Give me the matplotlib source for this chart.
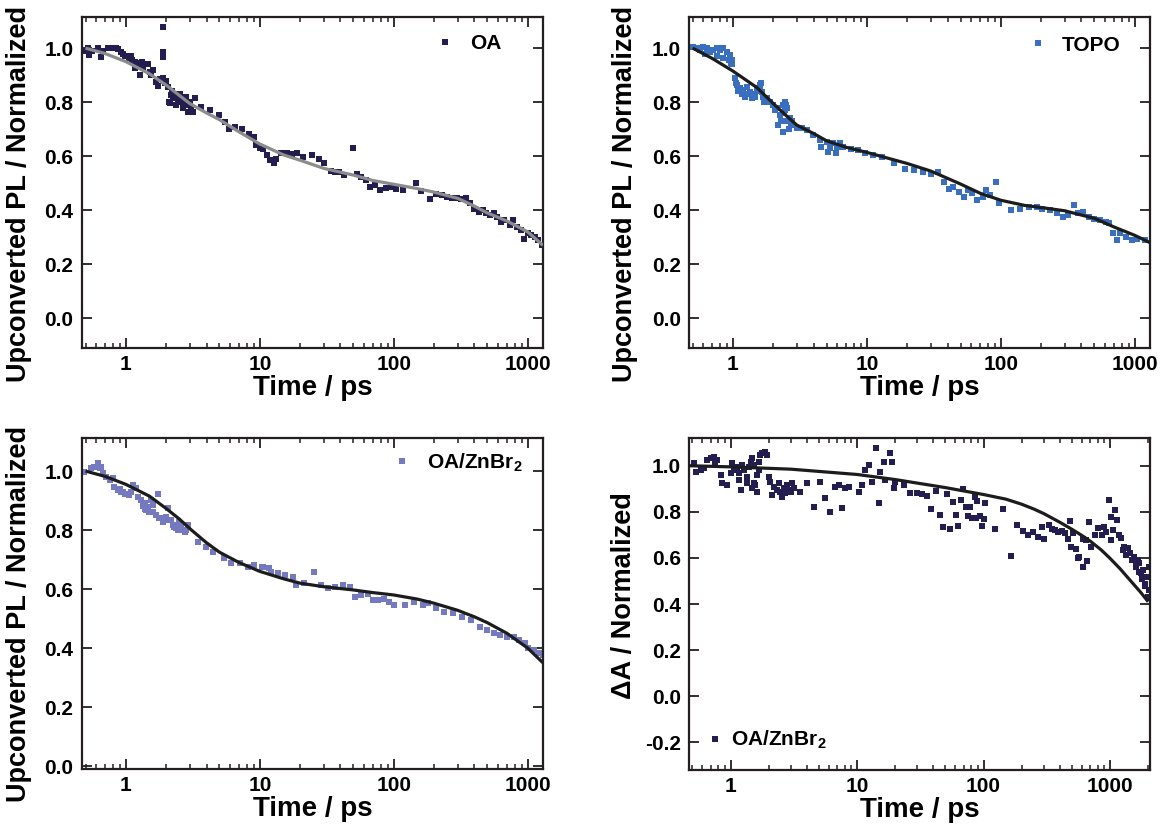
import numpy as np
import matplotlib
matplotlib.use('Agg')
import matplotlib.pyplot as plt
from matplotlib.ticker import LogLocator, FixedLocator, FixedFormatter, NullFormatter

plt.rcParams['font.family'] = ['Liberation Sans', 'DejaVu Sans']
plt.rcParams['font.weight'] = 'bold'
plt.rcParams['axes.unicode_minus'] = False
plt.rcParams['mathtext.fontset'] = 'custom'
plt.rcParams['mathtext.rm'] = 'Liberation Sans:bold'
plt.rcParams['mathtext.bf'] = 'Liberation Sans:bold'
plt.rcParams['mathtext.default'] = 'rm'

# --- OA (panel 1) ---
oa_t = [0.50, 0.52, 0.53, 0.56, 0.62, 0.65, 0.68, 0.73, 0.77, 0.80, 0.84, 0.87, 0.92, 0.95,
        0.98, 1.02, 1.05, 1.09, 1.12, 1.17, 1.22, 1.28, 1.33, 1.39, 1.17, 1.28, 1.46, 1.52,
        1.60, 1.68, 1.74, 1.80, 1.88, 1.95, 2.00, 1.90, 1.88, 1.89, 2.07, 2.13, 2.19, 2.25,
        2.32, 2.40, 2.46, 2.52, 2.59, 2.68, 2.76, 2.85, 2.92, 3.05, 3.19, 3.28, 3.66, 4.26,
        4.92, 5.5, 5.9, 6.5, 7.3, 8.3, 9.1, 9.4, 10.0, 10.6, 11.3, 12.0, 12.8, 13.2, 14.5,
        15.9, 17.4, 19.1, 21.0, 24.5, 27.8, 30.3, 34.0, 36.5, 38.8, 42.7, 49.9, 52.9, 56.5,
        61.8, 65.9, 72.2, 79.2, 86.9, 95.3, 104.6, 118, 147, 161, 188, 207, 228, 250, 272,
        298, 320, 348, 372, 395, 434, 462, 491, 522, 556, 591, 628, 669, 733, 780, 831, 885,
        940, 1000, 1064, 1130, 1203, 1282,
        1.35, 1.55, 2.10, 2.22, 2.35, 2.55, 2.65, 2.80, 3.00]
oa_y = [0.99, 1.0, 0.975, 0.99, 1.0, 0.967, 0.99, 1.0, 1.0, 1.0, 1.0, 0.995, 0.985, 0.98,
        0.97, 0.97, 0.965, 0.97, 0.955, 0.95, 0.945, 0.94, 0.95, 0.94, 0.925, 0.90, 0.94, 0.91,
        0.92, 0.875, 0.86, 0.885, 0.89, 0.87, 0.88, 1.08, 0.985, 0.967, 0.857, 0.796, 0.826, 0.82,
        0.814, 0.83, 0.80, 0.81, 0.807, 0.80, 0.814, 0.79, 0.764, 0.78, 0.764, 0.814, 0.783, 0.77,
        0.752, 0.727, 0.70, 0.708, 0.70, 0.684, 0.672, 0.64, 0.63, 0.625, 0.604, 0.585, 0.573, 0.59, 0.61,
        0.61, 0.607, 0.61, 0.597, 0.604, 0.59, 0.573, 0.545, 0.54, 0.54, 0.53, 0.63, 0.535, 0.523,
        0.511, 0.486, 0.493, 0.474, 0.484, 0.486, 0.48, 0.474, 0.499, 0.472, 0.44, 0.46, 0.455, 0.45, 0.445,
        0.445, 0.44, 0.445, 0.425, 0.406, 0.394, 0.40, 0.388, 0.381, 0.388, 0.376, 0.357, 0.363, 0.344, 0.363, 0.338,
        0.326, 0.295, 0.314, 0.307, 0.301, 0.289, 0.27,
        0.93, 0.90, 0.80, 0.84, 0.79, 0.83, 0.78, 0.82, 0.80]
oa_fit_t = [0.5, 0.7, 1, 1.5, 2, 3, 4, 5, 7, 10, 15, 20, 30, 50, 70, 100, 150, 200, 300, 400,
            500, 700, 1000, 1300]
oa_fit_y = [1.0, 0.98, 0.95, 0.905, 0.863, 0.795, 0.76, 0.735, 0.69, 0.645, 0.605, 0.585, 0.555,
            0.53, 0.51, 0.496, 0.48, 0.467, 0.444, 0.415, 0.39, 0.36, 0.32, 0.27]

# --- TOPO (panel 2) ---
topo_t = [0.50, 0.536, 0.567, 0.60, 0.636, 0.674, 0.713, 0.756, 0.80, 0.846, 0.897, 0.95, 0.978,
          0.62, 0.76, 0.85, 0.93, 0.96, 0.99, 1.035, 1.066, 1.127, 1.194, 1.265, 1.339, 1.416,
          1.503, 1.589, 1.637, 1.683, 1.782, 1.888, 2.0, 2.118, 2.178, 2.244, 2.371, 2.443, 2.512,
          2.661, 2.818, 2.985, 1.05, 1.10, 1.16, 1.22, 1.30, 1.38, 1.46, 1.55, 1.70, 2.05, 2.30,
          2.40, 2.55, 2.70, 3.26, 3.55, 3.97, 4.46, 4.53, 5.0, 5.16, 5.31, 5.61, 5.85, 6.03, 6.3,
          6.66, 7.55, 8.6, 9.75, 11.1, 13.0, 15.8, 19.1, 22.4, 26.2, 29.9, 34.1, 37.5, 41.3, 43.9,
          48.3, 53.2, 56.7, 60.4, 66.5, 73.2, 78.1, 83.2, 91.6, 97.7, 119, 139, 163, 185, 204,
          232, 264, 290, 319, 352, 375, 413, 454, 500, 550, 605, 645, 689, 735, 782, 861, 948,
          1045, 1186,
          2.35, 2.45, 2.50, 2.60, 2.75, 1.62, 1.58]
topo_y = [1.005, 0.999, 0.993, 1.005, 0.999, 0.986, 0.993, 0.999, 0.993, 0.999, 0.986, 0.974, 0.956,
          0.98, 0.97, 0.965, 0.955, 0.945, 0.94, 0.888, 0.863, 0.851, 0.844, 0.857, 0.838, 0.832,
          0.851, 0.863, 0.838, 0.82, 0.814, 0.801, 0.789, 0.777, 0.715, 0.752, 0.789, 0.801, 0.777,
          0.74, 0.715, 0.703, 0.87, 0.84, 0.83, 0.82, 0.83, 0.815, 0.82, 0.84, 0.80, 0.77, 0.73,
          0.76, 0.73, 0.72, 0.703, 0.697, 0.678, 0.659, 0.634, 0.654, 0.616, 0.63, 0.647, 0.61, 0.634, 0.647,
          0.634, 0.628, 0.622, 0.61, 0.604, 0.597, 0.573, 0.554, 0.548, 0.541, 0.535, 0.541, 0.505, 0.48, 0.486,
          0.468, 0.449, 0.474, 0.462, 0.437, 0.449, 0.474, 0.456, 0.505, 0.425, 0.40, 0.406, 0.412, 0.412, 0.406,
          0.40, 0.388, 0.375, 0.381, 0.419, 0.388, 0.394, 0.375, 0.369, 0.363, 0.357, 0.351, 0.314, 0.289, 0.314, 0.301, 0.289,
          0.295, 0.289,
          0.69, 0.77, 0.79, 0.70, 0.73, 0.87, 0.85]
topo_fit_t = [0.5, 0.7, 1, 1.5, 2, 2.5, 3, 4, 5, 7, 10, 15, 20, 30, 40, 50, 70, 100, 150, 200,
              300, 400, 500, 700, 1000, 1300]
topo_fit_y = [1.0, 0.962, 0.915, 0.855, 0.795, 0.75, 0.715, 0.684, 0.657, 0.633, 0.614, 0.59,
              0.573, 0.545, 0.518, 0.497, 0.463, 0.437, 0.418, 0.41, 0.398, 0.382, 0.37, 0.338,
              0.307, 0.28]

# --- OA/ZnBr2 upconversion (panel 3) ---
zn_t = [0.49, 0.55, 0.58, 0.62, 0.64, 0.65, 0.67, 0.71, 0.76, 0.80, 0.82, 0.87, 0.92, 0.98, 1.035,
        1.096, 1.127, 1.194, 1.23, 1.30, 1.38, 1.46, 1.42, 1.54, 1.59, 1.73, 1.68, 1.78, 1.89,
        2.0, 2.06, 2.18, 2.24, 2.37, 2.51, 2.66, 2.82, 2.90, 0.90, 0.95, 1.05, 1.35, 1.50, 1.95,
        2.30, 2.60, 3.45, 3.98, 4.46, 5.44, 6.1, 7.06, 8.13, 9.1, 10.4, 10.5, 11.8, 12.2, 13.7,
        15.5, 17.6, 18.7, 21.2, 25.4, 28.7, 32.5, 36.7, 41.6, 47, 51.5, 56.5, 63.9, 70, 76.8,
        84.1, 92.2, 101, 122, 142, 165, 181, 205, 239, 279, 324, 378, 442, 499, 564, 618, 698,
        791, 865, 950, 1010, 1107, 1213, 1291,
        1.40, 1.60, 1.85, 2.45, 2.75]
zn_y = [0.998, 1.009, 1.015, 1.026, 1.009, 1.015, 0.992, 0.981, 0.969, 0.975, 0.947, 0.936, 0.930,
        0.924, 0.924, 0.930, 0.953, 0.941, 0.913, 0.902, 0.891, 0.879, 0.868, 0.902, 0.885, 0.924,
        0.851, 0.84, 0.828, 0.845, 0.874, 0.834, 0.817, 0.806, 0.828, 0.80, 0.80, 0.817, 0.94,
        0.93, 0.92, 0.88, 0.86, 0.835, 0.81, 0.81, 0.76, 0.743, 0.726, 0.704, 0.687, 0.687,
        0.676, 0.681, 0.676, 0.676, 0.67, 0.659, 0.653, 0.647, 0.642, 0.614, 0.619, 0.659, 0.614,
        0.602, 0.608, 0.614, 0.608, 0.574, 0.58, 0.585, 0.563, 0.563, 0.568, 0.557, 0.546, 0.546,
        0.557, 0.546, 0.552, 0.535, 0.523, 0.518, 0.506, 0.495, 0.472, 0.461, 0.45, 0.444, 0.438,
        0.438, 0.427, 0.416, 0.399, 0.393, 0.382, 0.376,
        0.87, 0.86, 0.84, 0.80, 0.795]
zn_fit_t = [0.5, 0.7, 1, 1.5, 2, 2.5, 3, 4, 5, 7, 10, 15, 20, 30, 50, 70, 100, 150, 200, 300,
            400, 500, 700, 1000, 1300]
zn_fit_y = [1.0, 0.982, 0.955, 0.915, 0.873, 0.838, 0.805, 0.757, 0.725, 0.69, 0.66, 0.635, 0.62,
            0.608, 0.597, 0.588, 0.58, 0.566, 0.552, 0.528, 0.506, 0.486, 0.45, 0.40, 0.35]

# --- OA/ZnBr2 transient absorption (panel 4) ---
ta_t = [0.513, 0.53, 0.58, 0.62, 0.655, 0.695, 0.738, 0.76, 0.785, 0.834, 0.86, 0.94, 1.0,
        1.03, 1.06, 1.13, 1.16, 1.24, 1.27, 1.35, 1.40, 1.44, 1.48, 1.53, 1.62, 1.67, 1.72,
        1.78, 1.89, 1.95, 1.67, 1.16, 1.2, 1.35, 1.48, 1.53, 1.62, 1.57, 2.0, 2.07, 2.13, 2.2,
        2.33, 2.41, 2.48, 2.56, 2.64, 2.72, 2.8, 2.89, 2.98, 3.07, 3.16, 3.57, 4.03, 4.54, 5.13,
        5.63, 6.16, 6.73, 7.16, 7.6, 8.1, 8.6, 10.3, 10.9, 11.6, 12.4, 13.1, 14.0, 14.8, 15.3,
        16.2, 16.7, 18.3, 18.9, 19.5, 20.1, 23.3, 26.3, 29.7, 32.6, 35.8, 38.6, 42.3, 45.5, 47.7,
        51.5, 54.6, 57.2, 60.8, 63, 66.1, 69.2, 72.9, 77.5, 76, 81, 87, 94, 100, 86, 88.5, 97.9,
        103, 123, 142, 164, 183, 204, 224, 245, 268, 289, 303, 330, 346, 367, 390, 415, 441, 468,
        513, 483, 535, 571, 608, 654, 685, 703, 645, 487, 556, 615, 685, 755, 809, 865, 895, 925,
        989, 1023, 1059, 1096, 1023, 1133, 1172, 1213, 1254, 1297, 1343, 1390, 1439, 1486, 1538,
        1592, 1648, 1706, 1762, 1824, 1888, 1950, 2019, 2019,
        1600, 1700, 1800, 1900, 1980]
ta_y = [1.01, 0.974, 0.981, 0.989, 1.025, 1.032, 1.039, 1.01, 1.025, 0.96, 0.924, 0.916, 0.967,
        1.01, 0.981, 0.996, 0.967, 1.003, 0.981, 0.952, 0.996, 1.017, 1.032, 1.003, 0.96, 0.981,
        1.046, 1.054, 1.061, 1.046, 1.017, 0.938, 0.894, 0.924, 0.902, 0.924, 0.887, 0.916, 0.952,
        0.931, 0.873, 0.909, 0.894, 0.924, 0.887, 0.866, 0.902, 0.880, 0.916, 0.894, 0.887, 0.924,
        0.902, 0.887, 0.924, 0.822, 0.931, 0.859, 0.80, 0.909, 0.916, 0.815, 0.902, 0.909, 0.887,
        0.916, 0.981, 1.003, 0.931, 1.076, 0.837, 0.974, 1.017, 0.938, 1.054, 1.017, 0.902, 0.931,
        0.916, 0.88, 0.883, 0.876, 0.868, 0.811, 0.891, 0.786, 0.735, 0.877, 0.727, 0.844, 0.787,
        0.738, 0.851, 0.899, 0.822, 0.822, 0.782, 0.772, 0.772, 0.782, 0.768, 0.866, 0.848, 0.738,
        0.839, 0.725, 0.813, 0.609, 0.742, 0.718, 0.699, 0.713, 0.692, 0.735, 0.68, 0.742, 0.724,
        0.721, 0.713, 0.718, 0.709, 0.683, 0.706, 0.761, 0.64, 0.602, 0.683, 0.588, 0.754, 0.648,
        0.677, 0.648, 0.598, 0.561, 0.757, 0.699, 0.728, 0.699, 0.735, 0.713, 0.851, 0.778, 0.721,
        0.808, 0.677, 0.764, 0.699, 0.685, 0.634, 0.648, 0.612, 0.641, 0.62, 0.591, 0.605, 0.561,
        0.591, 0.576, 0.533, 0.547, 0.489, 0.518, 0.46, 0.561,
        0.58, 0.54, 0.51, 0.48, 0.43]
ta_fit_t = [0.47, 1, 3, 10, 20, 50, 100, 150, 200, 250, 300, 400, 500, 600, 700, 850, 1000, 1200,
            1500, 1750, 2000]
ta_fit_y = [1.0, 0.995, 0.985, 0.962, 0.94, 0.905, 0.875, 0.855, 0.833, 0.812, 0.792, 0.755,
            0.724, 0.697, 0.672, 0.635, 0.598, 0.553, 0.492, 0.45, 0.41]

navy = '#231d50'
topo_blue = '#3a6ebe'
lavender = '#7579bf'
frame = '#231f20'

fig = plt.figure(figsize=(11.74, 8.32), dpi=100)
rects = [[0.0698, 0.5817, 0.3927, 0.3978],
         [0.5869, 0.5817, 0.3927, 0.3978],
         [0.0698, 0.0757, 0.3927, 0.3978],
         [0.5869, 0.0745, 0.3927, 0.399]]
axes = [fig.add_axes(r) for r in rects]

panels = [
    (oa_t, oa_y, oa_fit_t, oa_fit_y, navy, '#8c8c8c', 'OA', (0.47, 1300), (-0.11, 1.115),
     np.arange(0, 1.01, 0.2), 'Upconverted PL / Normalized'),
    (topo_t, topo_y, topo_fit_t, topo_fit_y, topo_blue, '#1c1c1c', 'TOPO', (0.47, 1300), (-0.11, 1.115),
     np.arange(0, 1.01, 0.2), 'Upconverted PL / Normalized'),
    (zn_t, zn_y, zn_fit_t, zn_fit_y, lavender, '#1c1c1c', r'OA/ZnBr$_2$', (0.47, 1300), (-0.01, 1.112),
     np.arange(0, 1.01, 0.2), 'Upconverted PL / Normalized'),
    (ta_t, ta_y, ta_fit_t, ta_fit_y, navy, '#1c1c1c', r'OA/ZnBr$_2$', (0.47, 2070), (-0.32, 1.12),
     np.arange(-0.2, 1.01, 0.2), 'ΔA / Normalized'),
]

# legend anchor, alignment and handle-text gap per panel
leg_pos = [('center right', (0.91, 0.92), 0.95),
           ('center right', (0.935, 0.915), 0.85),
           ('center right', (0.955, 0.925), 0.95),
           ('center left', (0.045, 0.09), 0.5)]
# y-label anchor (axes fraction) per panel
ylab_pos = [(-0.108, 0.465), (-0.11, 0.465), (-0.108, 0.468), (-0.113, 0.527)]

for ax, p, lp, yp in zip(axes, panels, leg_pos, ylab_pos):
    t, y, ft, fy, col, fitcol, lab, xl, yl, yt, ylab = p
    ax.plot(t, y, 's', ms=4, mew=0, color=col, label=lab, zorder=2)
    ax.plot(ft, fy, '-', lw=2.3, color=fitcol, zorder=3, solid_capstyle='butt')
    ax.set_xscale('log')
    ax.set_xlim(*xl)
    ax.set_ylim(*yl)
    ax.xaxis.set_major_locator(FixedLocator([1, 10, 100, 1000]))
    ax.xaxis.set_major_formatter(FixedFormatter(['1', '10', '100', '1000']))
    ax.xaxis.set_minor_locator(LogLocator(base=10, subs=np.arange(2, 10), numticks=20))
    ax.xaxis.set_minor_formatter(NullFormatter())
    ax.set_yticks(yt)
    ax.set_yticklabels(['%.1f' % v for v in yt])
    ax.tick_params(which='major', direction='in', length=7, width=1.3, top=True, right=True,
                   labelsize=15, pad=6, color=frame)
    ax.tick_params(axis='x', which='minor', direction='in', length=3.5, width=1.1, top=True,
                   color=frame)
    ax.tick_params(axis='x', which='major', pad=5)
    for s in ax.spines.values():
        s.set_linewidth(1.6)
        s.set_color(frame)
    for lbl in ax.get_xticklabels() + ax.get_yticklabels():
        lbl.set_fontweight('bold')
    ax.set_xlabel('Time / ps', fontsize=20, fontweight='bold', labelpad=1)
    ax.set_ylabel(ylab, fontsize=19.5, fontweight='bold')
    ax.yaxis.set_label_coords(*yp)
    ax.legend(loc=lp[0], bbox_to_anchor=lp[1], frameon=False, numpoints=1,
              handlelength=0.5, handletextpad=lp[2], borderpad=0, borderaxespad=0,
              prop={'weight': 'bold', 'size': 15})

fig.savefig('out.png', dpi=100)
